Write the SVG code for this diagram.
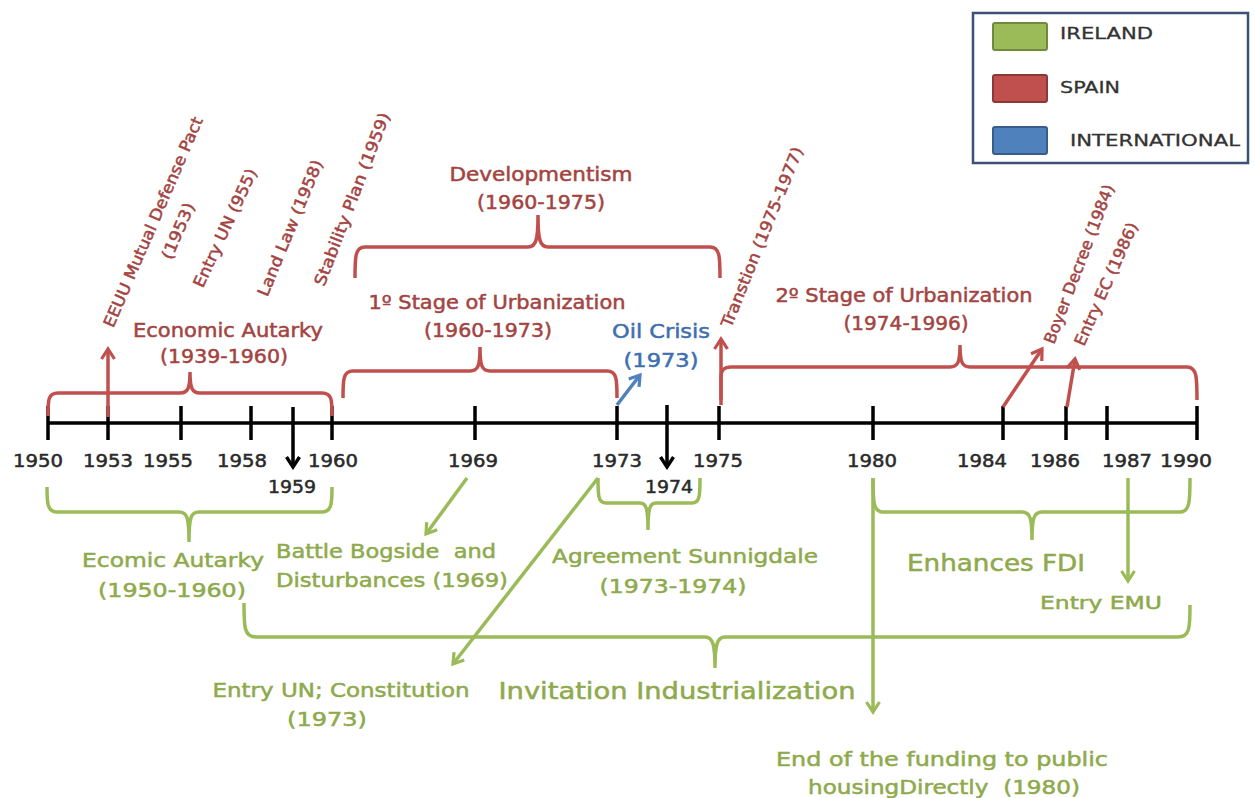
<svg xmlns="http://www.w3.org/2000/svg" width="1255" height="798" viewBox="0 0 1255 798">
<style>
text{font-family:"DejaVu Sans","Liberation Sans",sans-serif;white-space:pre;stroke-width:0.5px}
.ax{font-size:17px;fill:#2a2a2a;stroke:#2a2a2a;text-anchor:middle}
.r{font-size:19px;fill:#a34442;stroke:#a34442;text-anchor:middle}
.rr{font-size:16px;fill:#a34442;stroke:#a34442;text-anchor:middle}
.g{font-size:19px;fill:#8eaa4c;stroke:#8eaa4c;text-anchor:middle}
.gb{font-size:23px;fill:#8eaa4c;stroke:#8eaa4c;text-anchor:middle}
.b{font-size:19px;fill:#3e6fb0;stroke:#3e6fb0;text-anchor:middle}
.lg{font-size:16px;fill:#333;stroke:#333;stroke-width:0.3px}
.rs{stroke:#c0504d;stroke-width:3.5;fill:none}
.gs{stroke:#9bbb59;stroke-width:3.5;fill:none}
.bs{stroke:#4f81bd;stroke-width:3.5;fill:none}
.ks{stroke:#000;stroke-width:3.5;fill:none}
</style>
<defs>
<marker id="ar" markerUnits="userSpaceOnUse" markerWidth="16" markerHeight="16" viewBox="0 0 16 16" refX="13" refY="8" orient="auto"><path d="M3,1.5 L13,8 L3,14.5" fill="none" stroke="#c0504d" stroke-width="3.2"/></marker>
<marker id="ag" markerUnits="userSpaceOnUse" markerWidth="16" markerHeight="16" viewBox="0 0 16 16" refX="13" refY="8" orient="auto"><path d="M3,1.5 L13,8 L3,14.5" fill="none" stroke="#9bbb59" stroke-width="3.2"/></marker>
<marker id="ab" markerUnits="userSpaceOnUse" markerWidth="16" markerHeight="16" viewBox="0 0 16 16" refX="13" refY="8" orient="auto"><path d="M3,1.5 L13,8 L3,14.5" fill="none" stroke="#4f81bd" stroke-width="3.2"/></marker>
<marker id="ak" markerUnits="userSpaceOnUse" markerWidth="16" markerHeight="16" viewBox="0 0 16 16" refX="13" refY="8" orient="auto"><path d="M3,1.5 L13,8 L3,14.5" fill="none" stroke="#000" stroke-width="3.4"/></marker>
</defs>
<rect width="1255" height="798" fill="#fff"/>

<g id="legend">
<rect x="973" y="13" width="275" height="150" fill="#fff" stroke="#3a5274" stroke-width="2.5"/>
<rect x="993" y="23" width="54" height="27" rx="2" fill="#9bbb59" stroke="#71893f" stroke-width="2"/>
<rect x="993" y="75" width="54" height="27" rx="2" fill="#c0504d" stroke="#8c3836" stroke-width="2"/>
<rect x="993" y="127" width="54" height="27" rx="2" fill="#4f81bd" stroke="#385d8a" stroke-width="2"/>
<text class="lg" x="1060" y="39" textLength="93" lengthAdjust="spacingAndGlyphs">IRELAND</text>
<text class="lg" x="1060" y="93" textLength="60" lengthAdjust="spacingAndGlyphs">SPAIN</text>
<text class="lg" x="1070" y="146" textLength="170" lengthAdjust="spacingAndGlyphs">INTERNATIONAL</text>
</g>

<g id="axis">
<path d="M47,423 H1197" stroke="#000" stroke-width="3.5"/>
<path d="M48,406V440 M108,406V440 M181,406V440 M251,406V440 M332,406V440 M475,406V440 M617,406V440 M719,406V440 M873,406V440 M1003,406V440 M1066,406V440 M1107,406V440 M1197,406V440" stroke="#000" stroke-width="3.5"/>
<text class="ax" x="38" y="467" textLength="50" lengthAdjust="spacingAndGlyphs">1950</text>
<text class="ax" x="108" y="467" textLength="50" lengthAdjust="spacingAndGlyphs">1953</text>
<text class="ax" x="168" y="467" textLength="50" lengthAdjust="spacingAndGlyphs">1955</text>
<text class="ax" x="242" y="467" textLength="50" lengthAdjust="spacingAndGlyphs">1958</text>
<text class="ax" x="333" y="467" textLength="50" lengthAdjust="spacingAndGlyphs">1960</text>
<text class="ax" x="292" y="493" textLength="48" lengthAdjust="spacingAndGlyphs">1959</text>
<text class="ax" x="473" y="467" textLength="50" lengthAdjust="spacingAndGlyphs">1969</text>
<text class="ax" x="617" y="467" textLength="50" lengthAdjust="spacingAndGlyphs">1973</text>
<text class="ax" x="669" y="493" textLength="48" lengthAdjust="spacingAndGlyphs">1974</text>
<text class="ax" x="718" y="467" textLength="50" lengthAdjust="spacingAndGlyphs">1975</text>
<text class="ax" x="872" y="467" textLength="50" lengthAdjust="spacingAndGlyphs">1980</text>
<text class="ax" x="982" y="467" textLength="50" lengthAdjust="spacingAndGlyphs">1984</text>
<text class="ax" x="1055" y="467" textLength="50" lengthAdjust="spacingAndGlyphs">1986</text>
<text class="ax" x="1127" y="467" textLength="50" lengthAdjust="spacingAndGlyphs">1987</text>
<text class="ax" x="1186" y="467" textLength="52" lengthAdjust="spacingAndGlyphs">1990</text>
</g>

<g id="connectors">
<path class="rs" d="M48,416 C48,400 48,393 58,393 H180 C188,393 190,388 190,372 C190,388 192,393 200,393 H322 C332,393 332,400 332,416"/>
<path class="rs" d="M343,398 C343,380 343,371 353,371 H470 C478,371 480,366 480,347 C480,366 482,371 490,371 H607 C617,371 617,380 617,398"/>
<path class="rs" d="M355,278 C355,257 355,247 365,247 H528 C536,247 538,240 538,215 C538,240 540,247 548,247 H710 C720,247 720,257 720,278"/>
<path class="rs" d="M721,405 V377 C721,370 724,367 731,367 H950 C958,367 960,362 960,345 C960,362 962,367 970,367 H1187 C1197,367 1197,378 1197,400"/>
<path class="rs" d="M108,417 V349" marker-end="url(#ar)"/>
<path class="rs" d="M721,400 V339" marker-end="url(#ar)"/>
<path class="rs" d="M1003,407 L1042,349" marker-end="url(#ar)"/>
<path class="rs" d="M1067,407 L1075,359" marker-end="url(#ar)"/>
<path class="bs" d="M617,405 L640,375" marker-end="url(#ab)"/>
<path class="ks" d="M293,407 V467" marker-end="url(#ak)"/>
<path class="ks" d="M667,405 V467" marker-end="url(#ak)"/>
<path class="gs" d="M47,487 C47,502 47,512 57,512 H179 C187,512 189,517 189,542 C189,517 191,512 199,512 H322 C332,512 332,502 332,487"/>
<path class="gs" d="M598,478 C598,495 598,503 606,503 H640 C646,503 648,508 648,530 C648,508 650,503 656,503 H692 C700,503 700,495 700,478"/>
<path class="gs" d="M244,603 C244,627 244,637 256,637 H705 C713,637 715,645 715,668 C715,645 717,637 725,637 H1178 C1190,637 1190,627 1190,605"/>
<path class="gs" d="M873,478 C873,500 873,512 883,512 H1022 C1030,512 1032,518 1032,540 C1032,518 1034,512 1042,512 H1180 C1190,512 1190,500 1190,478"/>
<path class="gs" d="M467,478 L426,534" marker-end="url(#ag)"/>
<path class="gs" d="M598,478 L453,664" marker-end="url(#ag)"/>
<path class="gs" d="M873,478 V712" marker-end="url(#ag)"/>
<path class="gs" d="M1128,478 V581" marker-end="url(#ag)"/>
</g>

<g id="spain-economic-autarky">
<text class="r" x="228" y="337" textLength="190" lengthAdjust="spacingAndGlyphs">Economic Autarky</text>
<text class="r" x="224" y="363" textLength="128" lengthAdjust="spacingAndGlyphs">(1939-1960)</text>
</g>
<g id="spain-developmentism">
<text class="r" x="541" y="181" textLength="183" lengthAdjust="spacingAndGlyphs">Developmentism</text>
<text class="r" x="541" y="209" textLength="128" lengthAdjust="spacingAndGlyphs">(1960-1975)</text>
</g>
<g id="spain-stage1">
<text class="r" x="497" y="309" textLength="257" lengthAdjust="spacingAndGlyphs">1º Stage of Urbanization</text>
<text class="r" x="488" y="337" textLength="128" lengthAdjust="spacingAndGlyphs">(1960-1973)</text>
</g>
<g id="spain-stage2">
<text class="r" x="904" y="302" textLength="257" lengthAdjust="spacingAndGlyphs">2º Stage of Urbanization</text>
<text class="r" x="906" y="330" textLength="125" lengthAdjust="spacingAndGlyphs">(1974-1996)</text>
</g>
<g id="intl-oil-crisis">
<text class="b" x="661" y="338" textLength="98" lengthAdjust="spacingAndGlyphs">Oil Crisis</text>
<text class="b" x="661" y="367" textLength="75" lengthAdjust="spacingAndGlyphs">(1973)</text>
</g>
<g id="spain-eeuu-pact">
<text class="rr" transform="translate(153,222) rotate(-66.7)" dy="0.35em" textLength="227" lengthAdjust="spacingAndGlyphs">EEUU Mutual Defense Pact</text>
<text class="rr" transform="translate(178,231) rotate(-66.7)" dy="0.35em" textLength="60" lengthAdjust="spacingAndGlyphs">(1953)</text>
</g>
<g id="spain-entry-un">
<text class="rr" transform="translate(225,228) rotate(-65)" dy="0.35em" textLength="129" lengthAdjust="spacingAndGlyphs">Entry UN (955)</text>
</g>
<g id="spain-land-law">
<text class="rr" transform="translate(290,228) rotate(-67.5)" dy="0.35em" textLength="146" lengthAdjust="spacingAndGlyphs">Land Law (1958)</text>
</g>
<g id="spain-stability-plan">
<text class="rr" transform="translate(352,199) rotate(-69)" dy="0.35em" textLength="184" lengthAdjust="spacingAndGlyphs">Stability Plan (1959)</text>
</g>
<g id="spain-transition">
<text class="rr" transform="translate(762,237) rotate(-68)" dy="0.35em" textLength="193" lengthAdjust="spacingAndGlyphs">Transtion (1975-1977)</text>
</g>
<g id="spain-boyer">
<text class="rr" transform="translate(1079,264) rotate(-69)" dy="0.35em" textLength="169" lengthAdjust="spacingAndGlyphs">Boyer Decree (1984)</text>
</g>
<g id="spain-entry-ec">
<text class="rr" transform="translate(1106,284) rotate(-66)" dy="0.35em" textLength="133" lengthAdjust="spacingAndGlyphs">Entry EC (1986)</text>
</g>

<g id="ireland-autarky">
<text class="g" x="173" y="567" textLength="182" lengthAdjust="spacingAndGlyphs">Ecomic Autarky</text>
<text class="g" x="172" y="597" textLength="148" lengthAdjust="spacingAndGlyphs">(1950-1960)</text>
</g>
<g id="ireland-bogside">
<text class="g" x="276" y="558" style="text-anchor:start" textLength="220" lengthAdjust="spacingAndGlyphs">Battle Bogside  and</text>
<text class="g" x="276" y="587" style="text-anchor:start" textLength="232" lengthAdjust="spacingAndGlyphs">Disturbances (1969)</text>
</g>
<g id="ireland-sunnigdale">
<text class="g" x="685" y="563" textLength="266" lengthAdjust="spacingAndGlyphs">Agreement Sunnigdale</text>
<text class="g" x="673" y="593" textLength="147" lengthAdjust="spacingAndGlyphs">(1973-1974)</text>
</g>
<g id="ireland-entry-un">
<text class="g" x="341" y="697" textLength="257" lengthAdjust="spacingAndGlyphs">Entry UN; Constitution</text>
<text class="g" x="327" y="726" textLength="80" lengthAdjust="spacingAndGlyphs">(1973)</text>
</g>
<g id="ireland-invitation">
<text class="gb" x="677" y="699" textLength="357" lengthAdjust="spacingAndGlyphs">Invitation Industrialization</text>
</g>
<g id="ireland-fdi">
<text class="gb" x="996" y="571" textLength="178" lengthAdjust="spacingAndGlyphs">Enhances FDI</text>
</g>
<g id="ireland-emu">
<text class="g" x="1101" y="609" style="font-size:18px" textLength="122" lengthAdjust="spacingAndGlyphs">Entry EMU</text>
</g>
<g id="ireland-housing">
<text class="g" x="942" y="766" textLength="332" lengthAdjust="spacingAndGlyphs">End of the funding to public</text>
<text class="g" x="944" y="794" textLength="272" lengthAdjust="spacingAndGlyphs">housingDirectly  (1980)</text>
</g>
</svg>
